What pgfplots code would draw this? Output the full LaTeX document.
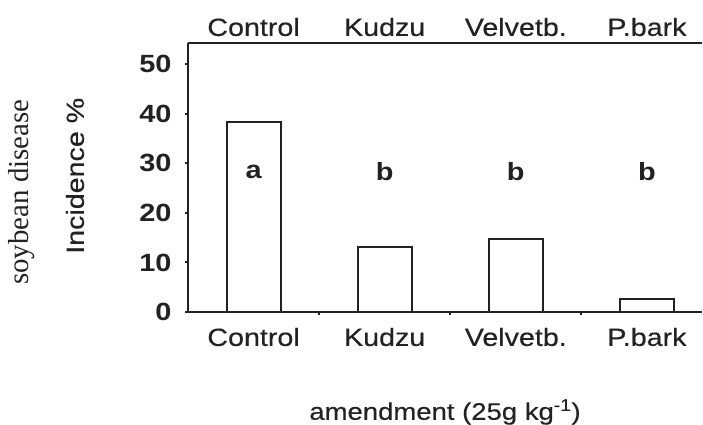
\documentclass[border=0pt]{standalone}
\usepackage{fontspec}
\setmainfont{Liberation Sans}[FakeStretch=1.16]
\newfontfamily\medfont{Liberation Sans}[FakeStretch=1.15, FakeBold=0.35]
\newfontfamily\serifx{Liberation Serif}
\usepackage{pgfplots}
\pgfplotsset{compat=1.18}
\definecolor{ink}{HTML}{222222}
\tikzset{cat/.style={font=\fontsize{25}{29}\selectfont\medfont, text=ink},
         let/.style={font=\fontsize{25}{29}\selectfont\bfseries, text=ink}}
\begin{document}
\begin{tikzpicture}
\useasboundingbox (-188bp,-113bp) rectangle (515bp,312bp);
\begin{axis}[
  at={(0,0)}, anchor=south west,
  scale only axis,
  width=514bp, height=269bp,
  xmin=-0.5, xmax=3.42,
  ymin=0, ymax=54.3,
  axis lines=left,
  axis line style={-, line width=2bp, ink},
  xtick={0.5,1.5,2.5},
  xticklabels={},
  ytick={0,10,20,30,40,50},
  tick align=outside,
  major tick length=3bp,
  tick style={line width=2bp, ink},
  /pgf/number format/assume math mode=true,
  yticklabel style={font=\fontsize{25}{29}\selectfont\bfseries, text=ink, xshift=-10bp},
  clip=false,
]
\addplot[ybar, bar width=54bp, draw=ink, fill=white, line width=2bp]
  coordinates {(0,38.4) (1,13.1) (2,14.8) (3,2.7)};
\draw[ink, line width=2bp] (rel axis cs:0,1) -- (rel axis cs:1,1);
\node[cat, yshift=-25bp] at (axis cs:0,0) {Control};
\node[cat, yshift=-25bp] at (axis cs:1,0) {Kudzu};
\node[cat, yshift=-25bp] at (axis cs:2,0) {Velvetb.};
\node[cat, yshift=-25bp] at (axis cs:3,0) {P.bark};
\node[cat, yshift=16bp] at (axis cs:0,54.3) {Control};
\node[cat, yshift=16bp] at (axis cs:1,54.3) {Kudzu};
\node[cat, yshift=16bp] at (axis cs:2,54.3) {Velvetb.};
\node[cat, yshift=16bp] at (axis cs:3,54.3) {P.bark};
\node[let] at (axis cs:0,28.3) {a};
\node[let] at (axis cs:1,28.3) {b};
\node[let] at (axis cs:2,28.3) {b};
\node[let] at (axis cs:3,28.3) {b};
\node[font=\fontsize{24}{28}\selectfont\medfont, text=ink, yshift=-100bp] at (rel axis cs:0.5,0) {amendment (25g kg\textsuperscript{-1})};
\node[font=\fontsize{25}{29}\selectfont\medfont, text=ink, xshift=-113bp, rotate=90] at (axis cs:-0.5,27.5) {Incidence \%};
\node[font=\fontsize{29}{32}\selectfont\serifx, text=ink, xshift=-166bp, rotate=90] at (axis cs:-0.5,24.2) {soybean disease};
\end{axis}
\end{tikzpicture}
\end{document}
